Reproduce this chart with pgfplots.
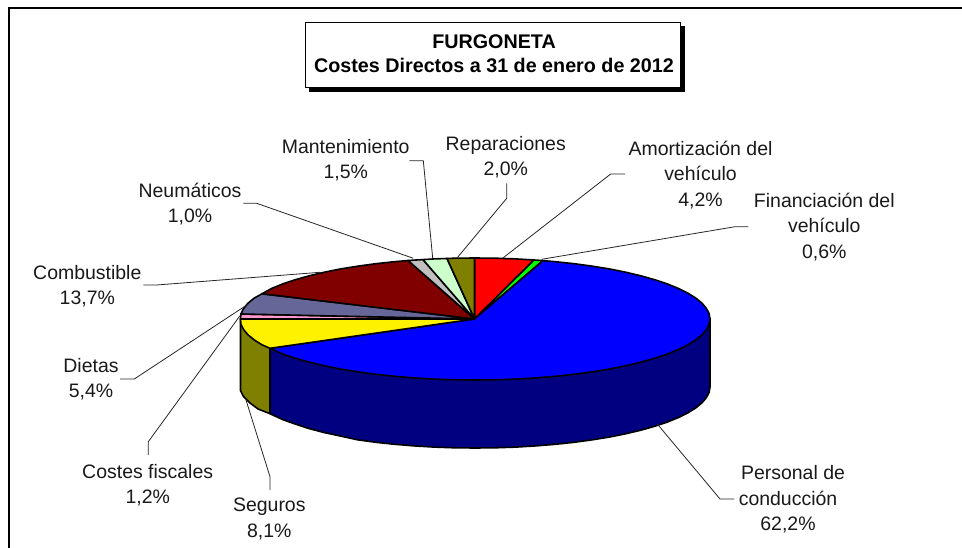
\documentclass[border=0pt]{standalone}
\usepackage{fontspec}
\setmainfont{Liberation Sans}
\usepackage{pgfplots}
\pgfplotsset{compat=1.18}
\definecolor{cDietas}{HTML}{666699}
\definecolor{cComb}{HTML}{800000}
\definecolor{cNeum}{HTML}{C0C0C0}
\definecolor{cMant}{HTML}{CCFFCC}
\definecolor{cRep}{HTML}{808000}
\definecolor{cFisc}{HTML}{FF99CC}
\definecolor{cSide}{HTML}{000080}
\pgfplotsset{
  wedge/.style={fill=#1,draw=black,line width=1.2pt,line join=round},
  leader/.style={draw=black!85,line width=0.6pt},
}
\newcommand{\lbl}[3]{\node[inner sep=0pt,align=center,text=black!90,font=\fontsize{14.6}{19}\selectfont] at (axis cs:#1,#2) {#3};}
\begin{document}
\begin{tikzpicture}
\begin{axis}[
  scale only axis,width=721.5pt,height=411pt,
  xmin=0,xmax=962,ymin=0,ymax=548,y dir=reverse,
  axis line style={draw=none},xtick=\empty,ytick=\empty]
% frame
\addplot[draw=black,line width=1.5pt] coordinates {(8.5,548)(8.5,8.5)(962,8.5)};
% title box
\addplot[fill=black,draw=black] coordinates {(309,26)(684.5,26)(684.5,91)(309,91)} --cycle;
\addplot[fill=white,draw=black,line width=0.7pt] coordinates {(305,22)(680,22)(680,87)(305,87)} --cycle;
% sides
\addplot[wedge=cSide] coordinates {(710,319)(710,387)(709.1,392.3)(706.4,397.6)(702,402.8)(695.8,407.9)(688,412.8)(678.5,417.5)(667.5,422)(655,426.2)(641.2,430.1)(626.1,433.7)(609.8,437)(592.5,439.8)(574.3,442.3)(555.4,444.3)(535.8,445.9)(515.8,447.1)(495.5,447.8)(475,448)(454.5,447.8)(434.2,447.1)(414.2,445.9)(394.6,444.3)(375.7,442.3)(357.5,439.8)(340.2,436)(323.9,432.5)(308.8,428.5)(295,424)(282.5,419.5)(270,413.7)(270,348.3)} --cycle;
\addplot[wedge=cRep] coordinates {(270,348.3)(270,413.7)(258,409)(250,403)(243.5,396.5)(240.5,390.7)(240.5,319)} --cycle;
% top of the pie, clockwise from 12 o'clock
\addplot[wedge=red] coordinates {(474.5,319)(474.5,258)(495.5,258.2)(515.8,258.9)(534,260)} --cycle;
\addplot[wedge=green] coordinates {(474.5,319)(534,260)(543,260.6)} --cycle;
\addplot[wedge=blue] coordinates {(474.5,319)(543,260.6)(555.4,261.7)(574.3,263.7)(592.5,266.2)(609.8,269)(626.1,272.3)(641.2,275.9)(655,279.8)(667.5,284)(678.5,288.5)(688,293.2)(695.8,298.1)(702,303.2)(706.4,308.4)(709.1,313.7)(710,319)(709.1,324.3)(706.4,329.6)(702,334.8)(695.8,339.9)(688,344.8)(678.5,349.5)(667.5,354)(655,358.2)(641.2,362.1)(626.1,365.7)(609.8,369)(592.5,371.8)(574.3,374.3)(555.4,376.3)(535.8,377.9)(515.8,379.1)(495.5,379.8)(475,380)(454.5,379.8)(434.2,379.1)(414.2,377.9)(394.6,376.3)(375.7,374.3)(357.5,371.8)(340.2,369)(323.9,365.7)(308.8,362.1)(295,358.2)(282.5,354)(270,348.3)} --cycle;
\addplot[wedge=yellow] coordinates {(474.5,319)(270,348.3)(262,344.8)(254.2,339.9)(248,334.8)(243.6,329.6)(240.9,324.3)(240.5,319)} --cycle;
\addplot[wedge=cFisc] coordinates {(474.5,319)(240.5,319)(240.9,314)} --cycle;
\addplot[wedge=cDietas] coordinates {(474.5,319)(240.9,314)(243.6,308.4)(248,303.2)(254.2,298.1)(262,293.8)} --cycle;
\addplot[wedge=cComb] coordinates {(474.5,319)(262,293.8)(271.5,288.5)(282.5,284)(295,279.8)(308.8,275.9)(323.9,272.3)(340.2,269)(357.5,266.2)(375.7,263.7)(394.6,261.7)(408,260.5)} --cycle;
\addplot[wedge=cNeum] coordinates {(474.5,319)(408,260.5)(423,259.6)} --cycle;
\addplot[wedge=cMant] coordinates {(474.5,319)(423,259.6)(434.2,258.9)(447,258.5)} --cycle;
\addplot[wedge=cRep] coordinates {(474.5,319)(447,258.5)(454.5,258.2)(474.5,258)} --cycle;
% leader lines
\addplot[leader] coordinates {(625,174)(610.7,174)(503.3,257.7)};
\addplot[leader] coordinates {(748.3,226.7)(735,226.7)(541.7,259.3)};
\addplot[leader] coordinates {(506.7,183.3)(506.7,198.3)(457.3,257.7)};
\addplot[leader] coordinates {(409.3,160.7)(423.3,160.7)(432.7,258.3)};
\addplot[leader] coordinates {(243.3,203.3)(256.7,203.3)(413.3,258.3)};
\addplot[leader] coordinates {(143.3,285)(156.7,285)(320,272.3)};
\addplot[leader] coordinates {(120,379)(134.3,379)(248.3,304)};
\addplot[leader] coordinates {(148.3,455)(148.3,441.7)(240,315.7)};
\addplot[leader] coordinates {(270,490)(270,476.7)(246,400)};
\addplot[leader] coordinates {(734.3,499)(720,499)(657.3,424)};
% texts
\node[inner sep=0pt,align=center,font=\fontsize{14.8}{18.3}\selectfont\bfseries] at (axis cs:494,53.5) {FURGONETA\\Costes Directos a 31 de enero de 2012};
\lbl{700.5}{175}{Amortización del\\vehículo\\4,2\%}
\lbl{824.3}{227}{Financiación del\\vehículo\\0,6\%}
\lbl{505.7}{157}{Reparaciones\\2,0\%}
\lbl{345.7}{160.5}{Mantenimiento\\1,5\%}
\lbl{190}{204}{Neumáticos\\1,0\%}
\lbl{87.3}{286}{Combustible\\13,7\%}
\lbl{91}{379}{Dietas\\5,4\%}
\lbl{147.7}{485.5}{Costes fiscales\\1,2\%}
\lbl{269.3}{519}{Seguros\\8,1\%}
\lbl{788}{499.5}{\hspace*{7.5pt}Personal de\\conducción\\62,2\%}
\end{axis}
\end{tikzpicture}
\end{document}
